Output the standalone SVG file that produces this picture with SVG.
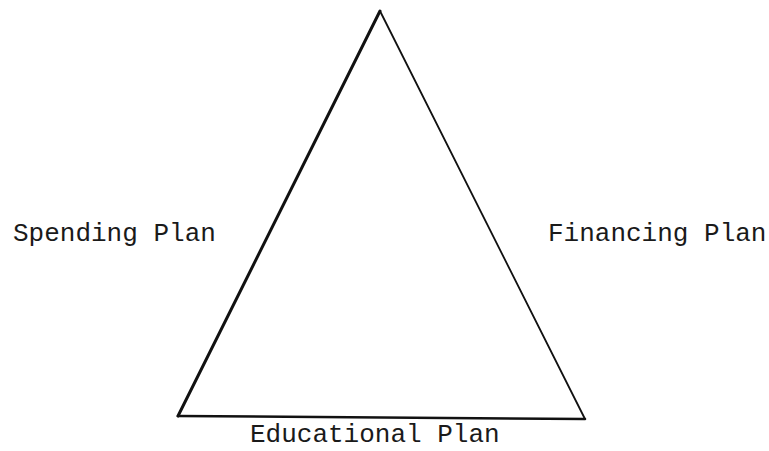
<svg xmlns="http://www.w3.org/2000/svg" width="769" height="451" viewBox="0 0 769 451">
<style>
.lbl{font-family:"Liberation Mono","Courier New",monospace;font-size:26px;fill:#1a1a1a}
.edge{stroke:#111;fill:none;stroke-linecap:round;stroke-linejoin:round}
</style>
<rect width="769" height="451" fill="#fff"/>
<g id="connectors">
<line class="edge" x1="380" y1="11" x2="178" y2="416" stroke-width="3"/>
<line class="edge" x1="380" y1="11" x2="585" y2="419" stroke-width="1.8"/>
<line class="edge" x1="178" y1="416" x2="585" y2="419" stroke-width="2.6"/>
</g>
<g id="spending"><text class="lbl" x="13" y="241">Spending Plan</text></g>
<g id="financing"><text class="lbl" x="548" y="241">Financing Plan</text></g>
<g id="educational"><text class="lbl" x="250" y="442">Educational Plan</text></g>
</svg>
